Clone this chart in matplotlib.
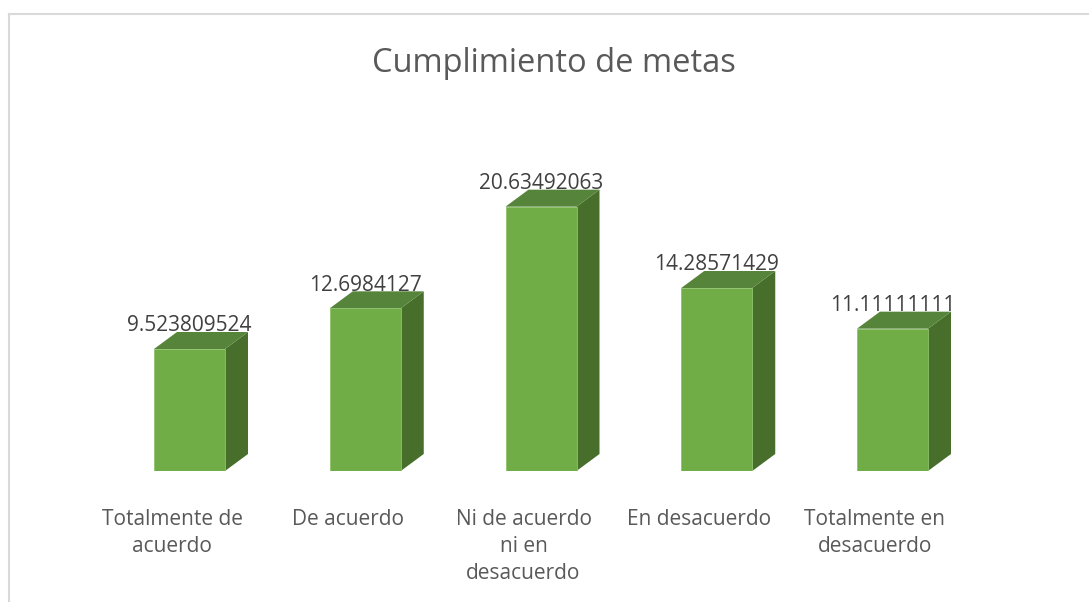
import matplotlib
matplotlib.use('Agg')
import matplotlib.pyplot as plt
from matplotlib.patches import Polygon
from matplotlib.lines import Line2D

# ---- data ----
categories = ["Totalmente de\nacuerdo", "De acuerdo", "Ni de acuerdo\nni en\ndesacuerdo",
              "En desacuerdo", "Totalmente en\ndesacuerdo"]
values = [9.523809524, 12.6984127, 20.63492063, 14.28571429, 11.11111111]
value_labels = ["9.523809524", "12.6984127", "20.63492063", "14.28571429", "11.11111111"]
title = "Cumplimiento de metas"

# ---- style ----
FONT = ['Open Sans', 'DejaVu Sans']
plt.rcParams['font.family'] = FONT
front_c = '#70AD47'
top_c = '#56843A'
side_c = '#476F2B'
edge_c = '#8CC26A'

W, H = 1089, 602
fig = plt.figure(figsize=(W / 100, H / 100), dpi=100)
fig.patch.set_facecolor('white')

# axes geometry in pixels
x_px_per_unit = 175.75
y_px_per_unit = 12.81
left_px = 189.5 - 0.5 * x_px_per_unit
base_px = 471.0
ymax = 25.0
ax = fig.add_axes([left_px / W, (H - base_px) / H, 5 * x_px_per_unit / W, ymax * y_px_per_unit / H])
ax.set_xlim(-0.5, 4.5)
ax.set_ylim(0, ymax)
ax.axis('off')

bar_w = 71 / x_px_per_unit
dx = 23 / x_px_per_unit
dy = 17 / y_px_per_unit

xs = list(range(len(values)))
ax.bar(xs, values, width=bar_w, color=front_c, edgecolor=edge_c, linewidth=0.6, zorder=3)
for x, v in zip(xs, values):
    r = x + bar_w / 2
    l = x - bar_w / 2
    side = Polygon([(r, 0), (r + dx, dy), (r + dx, v + dy), (r, v)], closed=True,
                   facecolor=side_c, edgecolor='none', zorder=2)
    top = Polygon([(l, v), (l + dx, v + dy), (r + dx, v + dy), (r, v)], closed=True,
                  facecolor=top_c, edgecolor='none', zorder=2)
    ax.add_patch(side)
    ax.add_patch(top)

for x, v, lab in zip(xs, values, value_labels):
    ax.text(x, v + dy + 0.05, lab, ha='center', va='baseline', fontsize=15,
            color='#404040', zorder=5)

cat_offset = -17.5 / x_px_per_unit
cat_y = (base_px - 525) / y_px_per_unit
line_step = 27 / y_px_per_unit
for x, c in zip(xs, categories):
    for i, line in enumerate(c.split('\n')):
        ax.text(x + cat_offset, cat_y - i * line_step, line, ha='center', va='baseline',
                fontsize=15, color='#595959')

fig.text(554 / W, 1 - 72 / H, title, ha='center', va='baseline', fontsize=23.5,
         color='#595959')

# chart border (left and top visible)
fig.add_artist(Line2D([8.5 / W, 8.5 / W], [0, 1 - 13.5 / H], transform=fig.transFigure,
                      color='#D9D9D9', linewidth=1.5))
fig.add_artist(Line2D([8.5 / W, 1], [1 - 13.5 / H, 1 - 13.5 / H], transform=fig.transFigure,
                      color='#D9D9D9', linewidth=1.5))

fig.savefig('out.png', dpi=100)
